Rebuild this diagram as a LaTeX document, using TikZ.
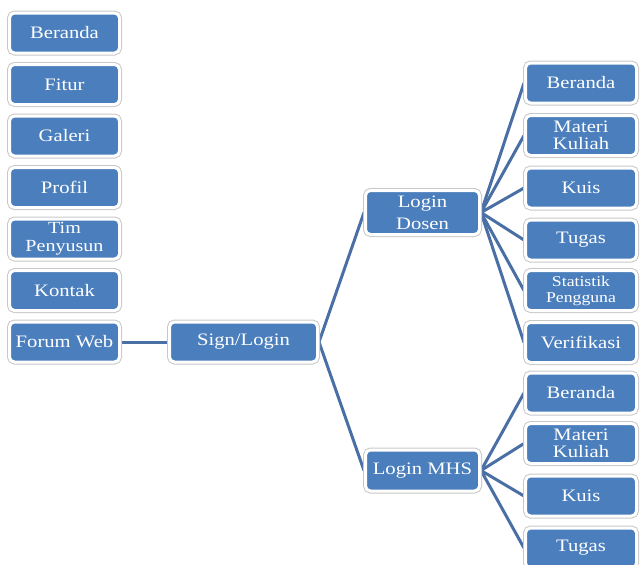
\documentclass[tikz,border=0pt]{standalone}
\usepackage{fontspec}
\newfontfamily\boxfont[FakeStretch=1.18]{Liberation Serif}
\usetikzlibrary{backgrounds}
\definecolor{boxblue}{HTML}{4A7EBC}
\definecolor{linkblue}{HTML}{4A6FA5}
\definecolor{rimgray}{HTML}{C8C8C8}
\tikzset{
  box/.style={rectangle, rounded corners=5pt, fill=boxblue, draw=white, line width=3pt,
    preaction={draw=rimgray, line width=5pt}, text=white, align=center, inner sep=0pt,
    font=\boxfont\fontsize{17.5}{16.5}\selectfont},
  lbox/.style={box, minimum width=110pt, minimum height=40pt},
  rbox/.style={box, minimum width=111pt, minimum height=40pt},
  link/.style={draw=linkblue, line width=3pt}
}
\begin{document}
\begin{tikzpicture}[x=1pt,y=-1pt]
\useasboundingbox (0,0) rectangle (640,565);
% left column
\node[lbox] (beranda) at (64.5,33) {Beranda};
\node[lbox] (fitur) at (64.5,84.5) {Fitur};
\node[lbox] (galeri) at (64.5,136) {Galeri};
\node[lbox] (profil) at (64.5,187.5) {Profil};
\node[lbox, font=\boxfont\fontsize{17}{18}\selectfont] (tim) at (64.5,239) {Tim\\Penyusun};
\node[lbox] (kontak) at (64.5,290.5) {Kontak};
\node[lbox] (forum) at (64.5,342) {Forum Web};
% middle
\node[box, minimum width=148pt, minimum height=40pt] (sign) at (243.5,342) {Sign/Login};
\node[box, minimum width=114pt, minimum height=44pt, font=\boxfont\fontsize{17.5}{22}\selectfont] (dosen) at (422.5,212.5) {Login\\Dosen};
\node[box, minimum width=114pt, minimum height=41pt] (mhs) at (422.5,470.5) {Login MHS};
% right column, dosen
\node[rbox] (d1) at (581,83) {Beranda};
\node[rbox] (d2) at (581,135.5) {Materi\\Kuliah};
\node[rbox] (d3) at (581,188) {Kuis};
\node[rbox] (d4) at (581,240) {Tugas};
\node[rbox, font=\boxfont\fontsize{15}{16}\selectfont] (d5) at (581,290.5) {Statistik\\Pengguna};
\node[rbox] (d6) at (581,342.5) {Verifikasi};
% right column, mhs
\node[rbox] (m1) at (581,393) {Beranda};
\node[rbox] (m2) at (581,443.5) {Materi\\Kuliah};
\node[rbox] (m3) at (581,496) {Kuis};
\node[rbox] (m4) at (581,548) {Tugas};
\begin{pgfonlayer}{background}
\draw[link] (forum.east) -- (sign.west);
\draw[link] (sign.east) -- (dosen.west);
\draw[link] (sign.east) -- (mhs.west);
\foreach \t in {d1,d2,d3,d4,d5,d6} \draw[link] (dosen.east) -- (\t.west);
\foreach \t in {m1,m2,m3,m4} \draw[link] (mhs.east) -- (\t.west);
\end{pgfonlayer}
\end{tikzpicture}
\end{document}
